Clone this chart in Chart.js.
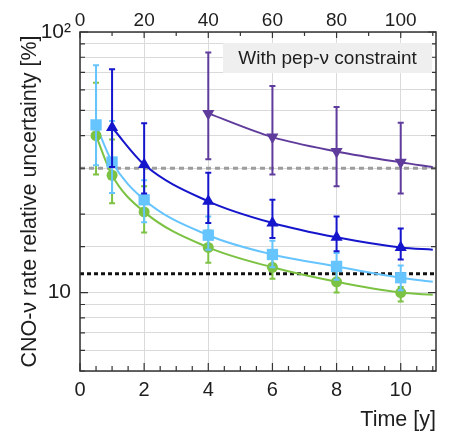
<!DOCTYPE html>
<html>
<head>
<meta charset="utf-8">
<script src="https://cdn.jsdelivr.net/npm/chart.js@4"></script>
<style>
  html, body { margin: 0; padding: 0; background: #fff; }
  #wrap { width: 452px; height: 439px; }
</style>
</head>
<body>
<div id="wrap"><canvas id="cnoChart" width="452" height="439"></canvas></div>
<script>
// exposure times [y] and relative uncertainty [%] for each scenario
const greenTime = [0.5, 1, 2, 4, 6, 8, 10];
const greenVal = [40, 28.2, 20.4, 14.9, 12.5, 11.0, 10.0];
const greenLo = [28.4, 22.0, 17.0, 13.0, 11.3, 10.0, 9.25];
const greenHi = [63.8, 38.7, 25.6, 17.3, 13.8, 12.2, 10.5];

const lightTime = [0.5, 1, 2, 4, 6, 8, 10];
const lightVal = [44, 31.7, 22.7, 16.6, 14.0, 12.6, 11.4];
const lightLo = [30.8, 24.1, 18.6, 14.6, 12.5, 11.2, 10.2];
const lightHi = [74.6, 45.5, 27.0, 19.6, 15.8, 14.2, 12.7];

const blueTime = [1, 2, 4, 6, 8, 10];
const blueVal = [43, 31, 22.4, 18.5, 16.3, 14.9];
const blueLo = [30.3, 24.0, 18.5, 16.2, 14.4, 13.4];
const blueHi = [71.9, 44.6, 28.8, 22.7, 19.6, 17.6];

const purpleTime = [4, 6, 8, 10];
const purpleVal = [48.7, 39.5, 34.8, 31.6];
const purpleLo = [32.5, 28.4, 25.6, 24.0];
const purpleHi = [83.5, 62, 51.5, 44.8];

// fitted curves: values at the markers plus the end of the range
const curveEndTime = 11;
const greenCurveEnd = 9.8;
const lightCurveEnd = 11.0;
const blueCurveEnd = 14.6;
const purpleCurveEnd = 30.3;

// reference levels (dashed)
const grayLevel = 30;
const blackLevel = 11.8;

const xMax = 11.1;
const yMin = 5;
const yMax = 100;
const bottomLabels = [0, 2, 4, 6, 8, 10];
const topLabels = [0, 20, 40, 60, 80, 100];

const GREEN = "#7cc243";
const LIGHT = "#66c4ff";
const BLUE = "#1515cc";
const PURPLE = "#5f3c9b";
const INK = "#1e1e1e";
const FONT = "'Liberation Sans', Arial, sans-serif";

function toPoints(xs, ys) {
  return xs.map((x, i) => ({ x: x, y: ys[i] }));
}

function markerSet(xs, ys, lo, hi, color, style, radius, rotation) {
  return {
    data: toPoints(xs, ys),
    errLo: lo,
    errHi: hi,
    showLine: false,
    borderColor: color,
    backgroundColor: color,
    pointStyle: style,
    pointRadius: radius,
    pointRotation: rotation || 0,
    pointBorderWidth: 0,
  };
}

function curveSet(xs, ys, endVal, color) {
  const pts = toPoints(xs, ys);
  pts.push({ x: curveEndTime, y: endVal });
  return {
    data: pts,
    borderColor: color,
    borderWidth: 2,
    pointRadius: 0,
    cubicInterpolationMode: "monotone",
    fill: false,
  };
}

function levelSet(val, color, dash) {
  return {
    data: [{ x: 0, y: val }, { x: xMax, y: val }],
    borderColor: color,
    borderWidth: 3,
    borderDash: dash,
    pointRadius: 0,
  };
}

// error bars drawn right before their marker dataset
const errorBars = {
  id: "errorBars",
  beforeDatasetDraw(chart, args) {
    const ds = chart.data.datasets[args.index];
    if (!ds.errLo) return;
    const ctx = chart.ctx;
    const xs = chart.scales.x;
    const ys = chart.scales.y;
    ctx.save();
    ctx.strokeStyle = ds.borderColor;
    ctx.lineWidth = 2;
    ds.data.forEach((p, i) => {
      const px = xs.getPixelForValue(p.x);
      const top = ys.getPixelForValue(ds.errHi[i]);
      const bot = ys.getPixelForValue(ds.errLo[i]);
      ctx.beginPath();
      ctx.moveTo(px, top);
      ctx.lineTo(px, bot);
      ctx.moveTo(px - 3, top);
      ctx.lineTo(px + 3, top);
      ctx.moveTo(px - 3, bot);
      ctx.lineTo(px + 3, bot);
      ctx.stroke();
    });
    ctx.restore();
  },
};

// frame, inward ticks and the label box
const frame = {
  id: "frame",
  afterDraw(chart) {
    const ctx = chart.ctx;
    const a = chart.chartArea;
    const xs = chart.scales.x;
    const xt = chart.scales.xTop;
    const ys = chart.scales.y;
    ctx.save();
    ctx.strokeStyle = "#333";
    ctx.lineWidth = 1.2;
    ctx.beginPath();
    for (let v = 0; v <= xMax; v += 0.5) {
      const px = xs.getPixelForValue(v);
      const len = v % 2 === 0 ? 8 : 5;
      ctx.moveTo(px, a.bottom);
      ctx.lineTo(px, a.bottom - len);
    }
    for (let v = 0; v <= xt.max; v += 10) {
      const px = xt.getPixelForValue(v);
      const len = v % 20 === 0 ? 6 : 4;
      ctx.moveTo(px, a.top);
      ctx.lineTo(px, a.top + len);
    }
    ys.ticks.forEach((t) => {
      const py = ys.getPixelForValue(t.value);
      const major = t.value === 10 || t.value === 100;
      const len = major ? 8 : 5;
      ctx.moveTo(a.left, py);
      ctx.lineTo(a.left + len, py);
      ctx.moveTo(a.right, py);
      ctx.lineTo(a.right - len, py);
    });
    ctx.stroke();

    ctx.lineWidth = 1.5;
    ctx.strokeRect(a.left, a.top, a.right - a.left, a.bottom - a.top);

    // "With pep-ν constraint" box
    const bw = 209, bh = 30;
    const bx = a.right - 4 - bw, by = a.top + 11;
    ctx.fillStyle = "#efefef";
    ctx.fillRect(bx, by, bw, bh);
    ctx.fillStyle = INK;
    ctx.font = "19px " + FONT;
    ctx.textAlign = "center";
    ctx.textBaseline = "middle";
    ctx.fillText("With pep-ν constraint", bx + bw / 2, by + bh / 2 + 1);
    ctx.restore();
  },
};

function buildChart() {
  const ctx = document.getElementById("cnoChart").getContext("2d");
  return new Chart(ctx, {
    type: "line",
    data: {
      datasets: [
        markerSet(purpleTime, purpleVal, purpleLo, purpleHi, PURPLE, "triangle", 7, 180),
        markerSet(blueTime, blueVal, blueLo, blueHi, BLUE, "triangle", 7),
        markerSet(lightTime, lightVal, lightLo, lightHi, LIGHT, "rect", 8),
        markerSet(greenTime, greenVal, greenLo, greenHi, GREEN, "circle", 5.5),
        curveSet(purpleTime, purpleVal, purpleCurveEnd, PURPLE),
        curveSet(blueTime, blueVal, blueCurveEnd, BLUE),
        curveSet(lightTime, lightVal, lightCurveEnd, LIGHT),
        curveSet(greenTime, greenVal, greenCurveEnd, GREEN),
        levelSet(grayLevel, "#9d9d9d", [5, 4]),
        levelSet(blackLevel, "#111", [4, 3]),
      ],
    },
    options: {
      responsive: false,
      animation: false,
      layout: { padding: { right: 16, left: 0, top: 0, bottom: 0 } },
      plugins: {
        legend: { display: false },
        tooltip: { enabled: false },
      },
      scales: {
        x: {
          type: "linear",
          position: "bottom",
          min: 0,
          max: xMax,
          afterFit: (s) => { s.height = 68; },
          afterBuildTicks: (s) => {
            s.ticks = bottomLabels.map((v) => ({ value: v }));
          },
          ticks: {
            autoSkip: false,
            padding: 7,
            color: INK,
            font: { family: FONT, size: 20 },
            maxRotation: 0,
          },
          grid: { color: "#dadada", lineWidth: 1, drawTicks: false },
          border: { display: false },
          title: {
            display: true,
            text: "Time [y]",
            align: "end",
            color: INK,
            font: { family: FONT, size: 21.5 },
            padding: { top: 0, bottom: 6 },
          },
        },
        xTop: {
          type: "linear",
          position: "top",
          min: 0,
          max: xMax * 10,
          afterFit: (s) => { s.height = 32; },
          afterBuildTicks: (s) => {
            s.ticks = topLabels.map((v) => ({ value: v }));
          },
          ticks: {
            autoSkip: false,
            padding: 0,
            color: INK,
            font: { family: FONT, size: 19 },
            maxRotation: 0,
          },
          grid: { display: false, drawTicks: false },
          border: { display: false },
        },
        y: {
          type: "logarithmic",
          min: yMin,
          max: yMax,
          afterFit: (s) => { s.width = 80; },
          ticks: {
            autoSkip: false,
            padding: 9,
            color: INK,
            font: { family: FONT, size: 21 },
            callback: (v) => (v === 10 ? "10" : v === 100 ? "10²" : ""),
          },
          grid: { color: "#dadada", lineWidth: 1, drawTicks: false },
          border: { display: false },
          title: {
            display: true,
            text: "CNO-ν rate relative uncertainty [%]",
            color: INK,
            font: { family: FONT, size: 21.5 },
            padding: { top: 17, bottom: 0 },
          },
        },
      },
    },
    plugins: [errorBars, frame],
  });
}

let chart;
document.addEventListener("DOMContentLoaded", () => {
  chart = buildChart();
});
</script>
</body>
</html>
